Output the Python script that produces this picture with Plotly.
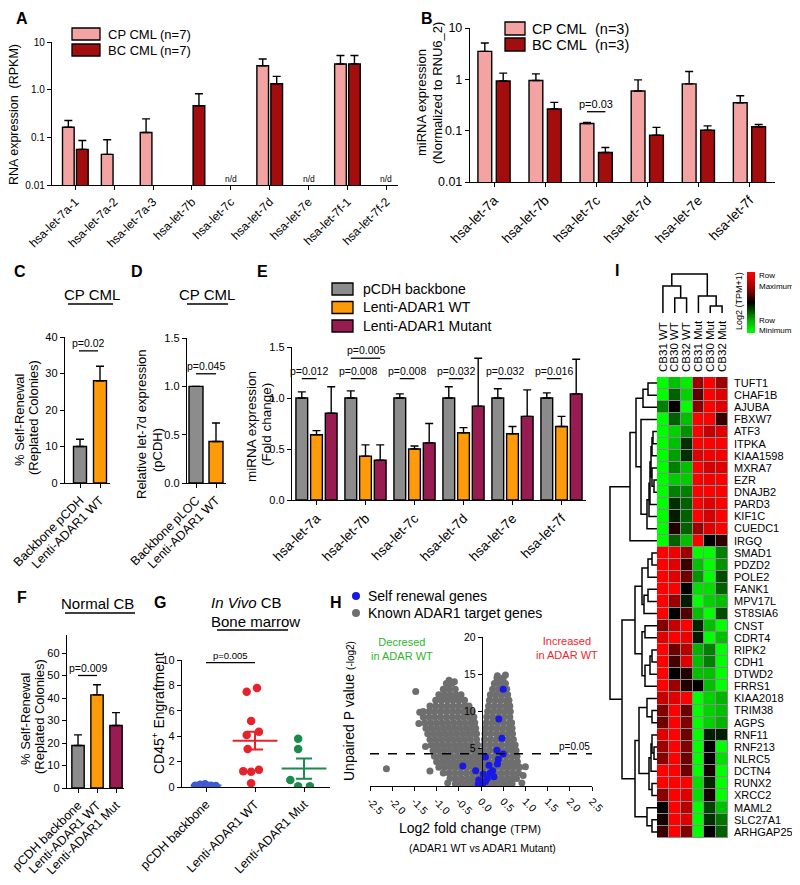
import numpy as np
import plotly.graph_objects as go

FONT = "Liberation Sans, Arial, Helvetica, sans-serif"
W, H = 800, 885
OFF = 8  # the page body margin shifts the figure by 8 px; positions below are page pixels

# ---------------- Panel A ----------------
a_cats = ["hsa-let-7a-1", "hsa-let-7a-2", "hsa-let-7a-3", "hsa-let-7b", "hsa-let-7c",
          "hsa-let-7d", "hsa-let-7e", "hsa-let-7f-1", "hsa-let-7f-2"]
a_cp = [0.163, 0.044, 0.126, None, None, 3.18, None, 3.45, None]
a_cp_top = [0.225, 0.089, 0.244, None, None, 4.4, None, 5.2, None]
a_bc = [0.056, None, None, 0.46, None, 1.33, None, 3.45, None]
a_bc_top = [0.086, None, None, 0.82, None, 1.9, None, 5.2, None]
a_nd = ["hsa-let-7c", "hsa-let-7e", "hsa-let-7f-2"]
a_series = ["CP CML", "BC CML"]
a_n = ["(n=7)", "(n=7)"]

# ---------------- Panel B ----------------
b_cats = ["hsa-let-7a", "hsa-let-7b", "hsa-let-7c", "hsa-let-7d", "hsa-let-7e", "hsa-let-7f"]
b_cp = [3.5, 0.95, 0.138, 0.594, 0.815, 0.35]
b_cp_top = [5.1, 1.28, 0.145, 0.975, 1.42, 0.48]
b_bc = [0.93, 0.264, 0.0375, 0.082, 0.102, 0.119]
b_bc_top = [1.32, 0.356, 0.047, 0.116, 0.124, 0.132]
b_n = ["(n=3)", "(n=3)"]
b_sig = ("hsa-let-7c", 0.234, "p=0.03")

# ---------------- Panel C ----------------
c_cats = ["Backbone pCDH", "Lenti-ADAR1 WT"]
c_vals = [10.0, 28.0]
c_top = [12.0, 32.0]
c_sig = (36.2, "p=0.02")

# ---------------- Panel D ----------------
d_cats = ["Backbone pLOC", "Lenti-ADAR1 WT"]
d_vals = [1.0, 0.43]
d_top = [None, 0.62]
d_sig = (1.13, "p=0.045")

# ---------------- Panel E ----------------
e_cats = ["hsa-let-7a", "hsa-let-7b", "hsa-let-7c", "hsa-let-7d", "hsa-let-7e", "hsa-let-7f"]
e_series = ["pCDH backbone", "Lenti-ADAR1 WT", "Lenti-ADAR1 Mutant"]
e_gray = [1.0, 1.0, 1.0, 1.0, 1.0, 1.0]
e_gray_top = [1.06, 1.07, 1.04, 1.11, 1.09, 1.05]
e_wt = [0.64, 0.43, 0.50, 0.66, 0.65, 0.72]
e_wt_top = [0.68, 0.54, 0.53, 0.71, 0.72, 0.82]
e_mut = [0.85, 0.39, 0.56, 0.92, 0.82, 1.04]
e_mut_top = [1.11, 0.54, 0.75, 1.39, 1.08, 1.38]
e_p_gray_wt = ["p=0.012", "p=0.008", "p=0.008", "p=0.032", "p=0.032", "p=0.016"]
e_p_gray_wt_y = 1.19
e_p_gray_mut = ("hsa-let-7b", 1.39, "p=0.005")

# ---------------- Panel F ----------------
f_cats = ["pCDH backbone", "Lenti-ADAR1 WT", "Lenti-ADAR1 Mut"]
f_vals = [18.9, 41.4, 27.8]
f_top = [23.6, 45.9, 33.5]
f_sig = (50.0, "p=0.009")

# ---------------- Panel G ----------------
g_cats = ["pCDH backbone", "Lenti-ADAR1 WT", "Lenti-ADAR1 Mut"]
g_blue = [0.10, 0.18, 0.22, 0.10, 0.07]
g_blue_jit = [-0.22, -0.12, -0.02, 0.1, 0.2]
g_red = [7.5, 7.8, 5.2, 4.35, 4.1, 3.0, 1.25, 1.2, 1.35, 0.3]
g_red_jit = [-0.17, 0.04, -0.08, 0.08, -0.17, -0.15, -0.24, -0.08, 0.08, -0.08]
g_green = [3.8, 3.0, 0.55, 0.05, 0.05]
g_green_jit = [-0.12, -0.12, -0.28, -0.12, 0.12]
g_mean = [0.12, 3.65, 1.45]
g_sem = [0.03, 0.7, 0.8]
g_sig = (9.8, "p=0.005")

# ---------------- Panel H ----------------
h_gray_rows = [
    (0.3, [-0.58, -0.46, -0.34, -0.22, -0.1, 0.02, 0.14, 0.26, 0.38, 0.5, 0.62, 0.7]),
    (1.0, [-0.7, -0.57, -0.44, -0.31, -0.18, -0.05, 0.08, 0.21, 0.34, 0.47, 0.6, 0.72, 0.8]),
    (1.75, [-0.85, -0.72, -0.59, -0.46, -0.33, -0.2, -0.07, 0.06, 0.19, 0.32, 0.45, 0.58, 0.71, 0.84]),
    (2.5, [-0.95, -0.82, -0.69, -0.56, -0.43, -0.3, -0.17, -0.04, 0.09, 0.22, 0.35, 0.48, 0.61, 0.74, 0.87]),
    (3.25, [-1.0, -0.87, -0.74, -0.61, -0.48, -0.35, -0.22, -0.09, 0.04, 0.17, 0.3, 0.43, 0.56, 0.69, 0.82]),
    (4.0, [-1.05, -0.92, -0.79, -0.66, -0.53, -0.4, -0.27, -0.14, -0.04, 0.05, 0.18, 0.31, 0.44, 0.57, 0.7, 0.81]),
    (4.75, [-1.08, -0.95, -0.82, -0.69, -0.56, -0.43, -0.3, -0.17, -0.06, 0.06, 0.19, 0.32, 0.45, 0.58, 0.7, 0.79]),
    (5.5, [-1.12, -0.99, -0.86, -0.73, -0.6, -0.47, -0.34, -0.21, -0.08, 0.07, 0.2, 0.33, 0.46, 0.59, 0.7, 0.77]),
    (6.25, [-1.15, -1.02, -0.89, -0.76, -0.63, -0.5, -0.37, -0.24, -0.1, 0.08, 0.21, 0.34, 0.47, 0.6, 0.73]),
    (7.0, [-1.2, -1.07, -0.94, -0.81, -0.68, -0.55, -0.42, -0.29, -0.16, -0.1, 0.09, 0.22, 0.35, 0.48, 0.61, 0.71]),
    (7.75, [-1.24, -1.11, -0.98, -0.85, -0.72, -0.59, -0.46, -0.33, -0.2, -0.12, 0.1, 0.23, 0.36, 0.49, 0.62, 0.7]),
    (8.5, [-1.27, -1.14, -1.01, -0.88, -0.75, -0.62, -0.49, -0.36, -0.23, -0.14, 0.12, 0.25, 0.38, 0.51, 0.64, 0.69]),
    (9.25, [-1.3, -1.17, -1.04, -0.91, -0.78, -0.65, -0.52, -0.39, -0.26, -0.16, 0.13, 0.26, 0.39, 0.52, 0.65]),
    (10.0, [-1.3, -1.17, -1.04, -0.91, -0.78, -0.65, -0.52, -0.39, -0.26, -0.2, 0.15, 0.28, 0.41, 0.54, 0.66]),
    (10.75, [-1.15, -1.02, -0.89, -0.76, -0.63, -0.5, -0.37, -0.27, 0.17, 0.3, 0.43, 0.56, 0.65]),
    (11.5, [-1.02, -0.89, -0.76, -0.63, -0.5, -0.37, 0.19, 0.32, 0.45, 0.58, 0.63]),
    (12.25, [-0.95, -0.82, -0.69, -0.56, -0.45, 0.21, 0.34, 0.47, 0.6]),
    (13.0, [-0.85, -0.72, -0.58, 0.26, 0.39, 0.52, 0.58]),
    (13.75, [-0.78, -0.66, 0.3, 0.43, 0.55]),
    (14.5, [0.36, 0.5]),
]
h_gray_out_x = [-2.13, -1.47, -1.38, -1.4, -1.25, -1.15, 0.55, 0.37, -0.72, -0.6, 0.95, 0.92, -0.75, 1.0]
h_gray_out_y = [2.3, 12.7, 9.9, 8.4, 5.3, 2.0, 14.9, 14.8, 14.2, 14.0, 1.4, 0.4, 0.4, 2.6]
h_blue_x = [0.5, 0.4, 0.47, 0.36, 0.5, 0.1, 0.39, -0.41, 0.37, 0.18, -0.12, 0.26, 0.05, 0.2,
            -0.05, -0.01, 0.1, -0.06, 0.03, 0.14, 0.29]
h_blue_y = [13.0, 9.0, 6.4, 4.8, 4.3, 3.9, 3.6, 2.7, 2.95, 2.8, 2.05, 2.05, 1.6, 1.7,
            0.8, 0.45, 0.6, 0.27, 0.13, 1.0, 1.25]
h_pcut = 4.32

# ---------------- Panel I ----------------
i_cols = ["CB31 WT", "CB30 WT", "CB32 WT", "CB31 Mut", "CB30 Mut", "CB32 Mut"]
i_genes = ["TUFT1", "CHAF1B", "AJUBA", "FBXW7", "ATF3", "ITPKA", "KIAA1598", "MXRA7", "EZR",
           "DNAJB2", "PARD3", "KIF1C", "CUEDC1", "IRGQ", "SMAD1", "PDZD2", "POLE2", "FANK1",
           "MPV17L", "ST8SIA6", "CNST", "CDRT4", "RIPK2", "CDH1", "DTWD2", "FRRS1", "KIAA2018",
           "TRIM38", "AGPS", "RNF11", "RNF213", "NLRC5", "DCTN4", "RUNX2", "XRCC2", "MAML2",
           "SLC27A1", "ARHGAP25"]
i_z = [
    [-3, -2, -2.7, 1.5, 3, 1.5],
    [-3, -1, -2.3, 0.8, 3, 2.5],
    [-1.3, 0, -3, 1.3, 3, 2.5],
    [-3, -1, -2, 3, 3, 0.5],
    [-3, -2.3, -1.5, 3, 2, 2.5],
    [-3, -2, -0.5, 3, 3, 3],
    [-3, -1.6, -0.5, 2.5, 2.8, 2.8],
    [-3, -1.3, -2, 3, 2.3, 2.5],
    [-3, -2.2, -2.2, 3, 2.8, 3],
    [-3, -1.3, -1.3, 3, 3, 3],
    [-3, -0.5, -1, 3, 2.5, 3],
    [-3, -0.3, -1, 3, 2.3, 3],
    [-3, 0.3, -1, 1.5, 2.5, 3],
    [-3, -1, -2, 3, 0, 0.4],
    [3, 2.7, 1.5, -3, -3, -1.3],
    [3, 2.5, 0.5, -2, -3, -1.5],
    [3, 2.5, 1, -1.5, -3, -0.8],
    [3, 3, 0, -2.5, -2.5, -1],
    [3, 1.5, -0.3, -3, -2.3, -2],
    [3, 0, 0.7, -2, -3, -0.8],
    [1.2, 2, 3, -0.4, -2, -3],
    [2.5, 3, 2.7, -0.3, -3, -2],
    [3, 1, 1.8, -1.8, -1.3, -3],
    [3, 0.6, 2.5, -2, -1.3, -3],
    [3, 0, 0.3, -2, -2, -3],
    [3, 1.5, 0.3, 0, -2, -3],
    [2, 2.5, 3, -3, -2.3, -1.8],
    [1.2, 3, 1, -3, -2.3, -2],
    [1, 3, 1.2, -3, -2.3, -1.8],
    [2.5, 3, 1, -3, -0.3, -0.3],
    [1.5, 3, 1.2, -3, 0, -3],
    [1.3, 3, 1, -3, 0, -2.5],
    [3, 3, 1, -3, 0.2, -3],
    [3, 3, 3, -2.5, -0.4, -3],
    [1.3, 3, 2.5, -2.5, 0.2, -3],
    [0, 3, 1.8, -3, -0.7, -2],
    [0.2, 3, 2.5, -3, -0.5, -1.2],
    [0.5, 3, 1.2, -3, 0, -1],
]
# row dendrogram merges: (node, child a, child b, height)
i_row_merges = [
    ("u1", "TUFT1", "CHAF1B", 9), ("u2", "u1", "AJUBA", 14),
    ("u3", "ATF3", "ITPKA", 4), ("u4", "u3", "KIAA1598", 5),
    ("u5", "EZR", "DNAJB2", 3), ("u6", "MXRA7", "u5", 5), ("u7", "u4", "u6", 6),
    ("u8", "u7", "PARD3", 7), ("u9", "u8", "KIF1C", 8), ("u10", "u9", "CUEDC1", 10),
    ("u11", "FBXW7", "u10", 16), ("u12", "u2", "u11", 21), ("U", "u12", "IRGQ", 27),
    ("a1", "SMAD1", "PDZD2", 5), ("a2", "a1", "POLE2", 9), ("a3", "FANK1", "MPV17L", 9),
    ("a4", "a3", "ST8SIA6", 13), ("a5", "a2", "a4", 15), ("a6", "CNST", "CDRT4", 12),
    ("a7", "RIPK2", "CDH1", 5), ("a8", "a7", "DTWD2", 7), ("a9", "a8", "FRRS1", 12),
    ("a10", "a6", "a9", 15), ("A", "a5", "a10", 22),
    ("b1", "TRIM38", "AGPS", 5), ("b2", "KIAA2018", "b1", 10), ("b3", "RNF213", "NLRC5", 3),
    ("b4", "RNF11", "b3", 5), ("b5", "b4", "DCTN4", 6), ("b6", "RUNX2", "XRCC2", 5),
    ("b7", "b5", "b6", 8), ("b8", "b2", "b7", 18), ("b9", "SLC27A1", "ARHGAP25", 5),
    ("b10", "MAML2", "b9", 10), ("B", "b8", "b10", 22), ("L", "A", "B", 35),
    ("root", "U", "L", 47),
]
i_col_merges = [
    ("w1", "CB30 WT", "CB32 WT", 15), ("W", "CB31 WT", "w1", 27),
    ("m1", "CB30 Mut", "CB32 Mut", 7), ("M", "CB31 Mut", "m1", 17),
    ("root", "W", "M", 39),
]

# ---------------- colours ----------------
PINK, DRED = "#F4A3A3", "#A30D0D"
GRAY, ORANGE, PURPLE = "#8C8C8C", "#FF9A0A", "#981B52"

fig = go.Figure()
shapes, annos = [], []


def X(px):
    return (px - OFF) / W


def Y(py):
    return 1 - (py - OFF) / H


def xd(a, b):
    return [X(a), X(b)]


def yd(top, bottom):
    return [Y(bottom), Y(top)]


def ptext(x, y, text, size=12, xanchor="center", yanchor="middle", angle=0, color="black"):
    annos.append(dict(x=X(x), y=Y(y), xref="paper", yref="paper", text=text,
                      showarrow=False, xanchor=xanchor, yanchor=yanchor, textangle=angle,
                      font=dict(size=size, color=color, family=FONT)))


def pline(x0, x1, y, width=1.4):
    shapes.append(dict(type="line", xref="paper", yref="paper", x0=X(x0), x1=X(x1),
                       y0=Y(y), y1=Y(y), line=dict(color="black", width=width)))


def prect(x0, y0, x1, y1, color):
    shapes.append(dict(type="rect", xref="paper", yref="paper", x0=X(x0), x1=X(x1),
                       y0=Y(y1), y1=Y(y0), fillcolor=color,
                       line=dict(color="black", width=1.3)))


def bars(vals, tops, color, width, center, xa, ya):
    xs = list(range(len(vals)))
    err = [(t - v) if (v is not None and t is not None) else 0 for v, t in zip(vals, tops)]
    fig.add_trace(go.Bar(
        x=xs, y=vals, width=width, offset=center - width / 2,
        marker=dict(color=color, line=dict(color="black", width=1.4)),
        error_y=dict(type="data", symmetric=False, array=err, arrayminus=[0] * len(err),
                     color="black", thickness=1.4, width=4),
        xaxis=xa, yaxis=ya, showlegend=False, hoverinfo="skip"))


def sig(x0, x1, y, text, xa, ya, logy=False, size=10.5):
    fig.add_trace(go.Scatter(x=[x0, x1], y=[y, y], mode="lines",
                             line=dict(color="black", width=1.3), xaxis=xa, yaxis=ya,
                             showlegend=False, hoverinfo="skip"))
    annos.append(dict(x=(x0 + x1) / 2, y=np.log10(y) if logy else y, xref=xa, yref=ya,
                      text=text, showarrow=False, yanchor="bottom", yshift=0,
                      font=dict(size=size, family=FONT, color="black")))


# ---- A
bars(a_cp, a_cp_top, PINK, 0.3, -0.18, "x", "y")
bars(a_bc, a_bc_top, DRED, 0.3, 0.18, "x", "y")
for c in a_nd:
    annos.append(dict(x=a_cats.index(c), y=np.log10(0.0135), xref="x", yref="y", text="n/d",
                      showarrow=False, font=dict(size=8.5, family=FONT)))
# ---- B
bars(b_cp, b_cp_top, PINK, 0.27, -0.18, "x2", "y2")
bars(b_bc, b_bc_top, DRED, 0.27, 0.18, "x2", "y2")
bi = b_cats.index(b_sig[0])
sig(bi - 0.18, bi + 0.18, b_sig[1], b_sig[2], "x2", "y2", logy=True, size=11)
# ---- C
fig.add_trace(go.Bar(x=[0, 1], y=c_vals, width=0.65,
                     marker=dict(color=[GRAY, ORANGE], line=dict(color="black", width=1.4)),
                     error_y=dict(type="data", symmetric=False,
                                  array=[t - v for v, t in zip(c_vals, c_top)], arrayminus=[0, 0],
                                  color="black", thickness=1.4, width=4),
                     xaxis="x3", yaxis="y3", showlegend=False, hoverinfo="skip"))
sig(-0.05, 0.9, c_sig[0], c_sig[1], "x3", "y3")
# ---- D
fig.add_trace(go.Bar(x=[0, 1], y=d_vals, width=0.7,
                     marker=dict(color=[GRAY, ORANGE], line=dict(color="black", width=1.4)),
                     error_y=dict(type="data", symmetric=False,
                                  array=[0 if t is None else t - v for v, t in zip(d_vals, d_top)],
                                  arrayminus=[0, 0], color="black", thickness=1.4, width=4),
                     xaxis="x4", yaxis="y4", showlegend=False, hoverinfo="skip"))
sig(0, 1, d_sig[0], d_sig[1], "x4", "y4")
# ---- E
bars(e_gray, e_gray_top, GRAY, 0.24, -0.3, "x5", "y5")
bars(e_wt, e_wt_top, ORANGE, 0.24, 0.0, "x5", "y5")
bars(e_mut, e_mut_top, PURPLE, 0.24, 0.3, "x5", "y5")
for i, p in enumerate(e_p_gray_wt):
    sig(i - 0.3, i, e_p_gray_wt_y, p, "x5", "y5")
ei = e_cats.index(e_p_gray_mut[0])
sig(ei - 0.3, ei + 0.3, e_p_gray_mut[1], e_p_gray_mut[2], "x5", "y5")
# ---- F
fig.add_trace(go.Bar(x=[0, 1, 2], y=f_vals, width=0.65,
                     marker=dict(color=[GRAY, ORANGE, PURPLE], line=dict(color="black", width=1.4)),
                     error_y=dict(type="data", symmetric=False,
                                  array=[t - v for v, t in zip(f_vals, f_top)], arrayminus=[0, 0, 0],
                                  color="black", thickness=1.4, width=4),
                     xaxis="x6", yaxis="y6", showlegend=False, hoverinfo="skip"))
sig(0, 1, f_sig[0], f_sig[1], "x6", "y6")
# ---- G
g_cols = ["#3D5BD0", "#E8222B", "#1B8B4C"]
for gi, (vals, jit) in enumerate([(g_blue, g_blue_jit), (g_red, g_red_jit), (g_green, g_green_jit)]):
    fig.add_trace(go.Scatter(x=[gi + j for j in jit], y=vals, mode="markers",
                             marker=dict(color=g_cols[gi], size=8.5),
                             xaxis="x7", yaxis="y7", showlegend=False, hoverinfo="skip"))
    fig.add_trace(go.Scatter(x=[gi], y=[g_mean[gi]], mode="markers",
                             marker=dict(symbol="line-ew", size=22 if gi == 0 else 32,
                                         line=dict(color=g_cols[gi], width=2)),
                             error_y=dict(type="data", array=[g_sem[gi]], color=g_cols[gi],
                                          thickness=2, width=8),
                             xaxis="x7", yaxis="y7", showlegend=False, hoverinfo="skip"))
sig(0, 1, g_sig[0], g_sig[1], "x7", "y7", size=9.5)
# ---- H
hx = [x for y, xs in h_gray_rows for x in xs] + h_gray_out_x
hy = [y for y, xs in h_gray_rows for x in xs] + h_gray_out_y
fig.add_trace(go.Scatter(x=hx, y=hy, mode="markers", marker=dict(color="#6E6E6E", size=7),
                         xaxis="x8", yaxis="y8", showlegend=False, hoverinfo="skip"))
fig.add_trace(go.Scatter(x=h_blue_x, y=h_blue_y, mode="markers", marker=dict(color="#1818E8", size=7),
                         xaxis="x8", yaxis="y8", showlegend=False, hoverinfo="skip"))
fig.add_trace(go.Scatter(x=[-2.5, 2.5], y=[h_pcut, h_pcut], mode="lines",
                         line=dict(color="black", width=1.5, dash="dash"),
                         xaxis="x8", yaxis="y8", showlegend=False, hoverinfo="skip"))
annos.append(dict(x=2.1, y=h_pcut, xref="x8", yref="y8", text="p=0.05", showarrow=False,
                  yanchor="bottom", font=dict(size=10, family=FONT)))
# ---- I heatmap
fig.add_trace(go.Heatmap(
    z=i_z, x=list(range(len(i_cols))), y=list(range(len(i_genes))), zmin=-3, zmax=3,
    colorscale=[[0, "#00FF00"], [0.2, "#00B400"], [0.36, "#005000"], [0.5, "#000000"],
                [0.64, "#600000"], [0.8, "#B80000"], [1, "#FF0000"]],
    xgap=1, ygap=1, xaxis="x9", yaxis="y9", hoverinfo="skip",
    colorbar=dict(x=X(747), xanchor="left", y=Y(272), yanchor="top", len=61,
                  lenmode="pixels", thickness=8, thicknessmode="pixels", xpad=0, ypad=0,
                  showticklabels=False, ticks="", outlinewidth=0)))
shapes.append(dict(type="rect", xref="x9", yref="y9", x0=-0.5, x1=5.5, y0=-0.5, y1=37.5,
                   fillcolor="#8A8A8A", line=dict(color="#8A8A8A", width=1), layer="below"))


def dendro(leaves, merges):
    pos = {n: float(i) for i, n in enumerate(leaves)}
    hgt = {n: 0.0 for n in leaves}
    P, Hh = [], []
    for nid, a, b, h in merges:
        P += [pos[a], pos[a], pos[b], pos[b], None]
        Hh += [hgt[a], h, h, hgt[b], None]
        pos[nid] = (pos[a] + pos[b]) / 2
        hgt[nid] = h
    return P, Hh


rp, rh = dendro(i_genes, i_row_merges)
fig.add_trace(go.Scatter(x=rh, y=rp, mode="lines", line=dict(color="black", width=1.5),
                         xaxis="x10", yaxis="y10", showlegend=False, hoverinfo="skip"))
cp_, ch = dendro(i_cols, i_col_merges)
fig.add_trace(go.Scatter(x=cp_, y=ch, mode="lines", line=dict(color="black", width=1.5),
                         xaxis="x11", yaxis="y11", showlegend=False, hoverinfo="skip"))


# ---------------- axes ----------------
def ax(domain, **kw):
    d = dict(domain=domain, showline=True, linecolor="black", linewidth=1.4, ticks="outside",
             ticklen=4, tickwidth=1.4, tickcolor="black", showgrid=False, zeroline=False,
             tickfont=dict(size=11), automargin=False)
    d.update(kw)
    return d


lay = dict(width=W, height=H, margin=dict(l=0, r=0, t=0, b=0, pad=0, autoexpand=False),
           paper_bgcolor="white", plot_bgcolor="white", barmode="overlay", showlegend=False,
           font=dict(family=FONT, color="black", size=11))
lay["xaxis"] = ax(xd(52, 398), range=[-0.6, 8.3], tickvals=list(range(9)), ticktext=a_cats,
                  tickangle=-45, tickfont=dict(size=12), anchor="y")
lay["yaxis"] = ax(yd(42, 185), type="log", range=[-2, 1], tickvals=[0.01, 0.1, 1, 10],
                  ticktext=["0.01", "0.1", "1.0", "10"], tickfont=dict(size=10), anchor="x")
lay["xaxis2"] = ax(xd(470, 775), range=[-0.47, 5.5], tickvals=list(range(6)), ticktext=b_cats,
                   tickangle=-45, tickfont=dict(size=13.5), anchor="y2")
lay["yaxis2"] = ax(yd(28, 182), type="log", range=[-2, 1], tickvals=[0.01, 0.1, 1, 10],
                   ticktext=["0.01", "0.1", "1", "10"], tickfont=dict(size=12.5), anchor="x2")
lay["xaxis3"] = ax(xd(65, 110), range=[-0.75, 1.5], tickvals=[0, 1], ticktext=c_cats,
                   tickangle=-45, tickfont=dict(size=12.5), anchor="y3")
lay["yaxis3"] = ax(yd(337, 483), range=[0, 40], tickvals=[0, 10, 20, 30, 40], anchor="x3")
lay["xaxis4"] = ax(xd(187, 226), range=[-0.45, 1.5], tickvals=[0, 1], ticktext=d_cats,
                   tickangle=-45, tickfont=dict(size=12.5), anchor="y4")
lay["yaxis4"] = ax(yd(338, 483), range=[0, 1.5], tickvals=[0, 0.5, 1.0, 1.5],
                   ticktext=["0.0", "0.5", "1.0", "1.5"], anchor="x4")
lay["xaxis5"] = ax(xd(292, 586), range=[-0.5, 5.5], tickvals=list(range(6)), ticktext=e_cats,
                   tickangle=-45, tickfont=dict(size=13.5), anchor="y5")
lay["yaxis5"] = ax(yd(347, 500), range=[0, 1.5], tickvals=[0, 0.5, 1.0, 1.5],
                   ticktext=["0.0", "0.5", "1.0", "1.5"], anchor="x5")
lay["xaxis6"] = ax(xd(67, 124), range=[-0.58, 2.42], tickvals=[0, 1, 2], ticktext=f_cats,
                   tickangle=-45, tickfont=dict(size=12.5), anchor="y6")
lay["yaxis6"] = ax(yd(635, 788), range=[0, 68], tickvals=[0, 10, 20, 30, 40, 50, 60], anchor="x6")
lay["xaxis7"] = ax(xd(182, 330), range=[-0.49, 2.53], tickvals=[0, 1, 2], ticktext=g_cats,
                   tickangle=-45, tickfont=dict(size=12.5), anchor="y7")
lay["yaxis7"] = ax(yd(660, 787), range=[0, 10], tickvals=[0, 2, 4, 6, 8, 10], anchor="x7")
lay["xaxis8"] = ax(xd(370, 592), range=[-2.5, 2.5], tickvals=[-2.5, -2, -1.5, -1, -0.5, 0, 0.5, 1, 1.5, 2, 2.5],
                   ticktext=["-2.5", "-2.0", "-1.5", "-1.0", "-0.5", "0.0", "0.5", "1.0", "1.5", "2.0", "2.5"],
                   tickangle=45, tickfont=dict(size=10.5), anchor="y8")
lay["yaxis8"] = ax(yd(637, 786), range=[0, 20], tickvals=[5, 10, 15, 20], anchor="free",
                   position=X(482), tickfont=dict(size=10.5))
lay["xaxis9"] = dict(domain=xd(657, 728), range=[-0.5, 5.5], side="top", tickvals=list(range(6)),
                     ticktext=i_cols, tickangle=-90, ticks="", showline=False, showgrid=False,
                     zeroline=False, tickfont=dict(size=11.5), ticklabelstandoff=4, anchor="y9",
                     automargin=False)
lay["yaxis9"] = dict(domain=yd(377, 838), range=[37.5, -0.5], side="right",
                     tickvals=list(range(len(i_genes))), ticktext=i_genes, ticks="", showline=False,
                     showgrid=False, zeroline=False, tickfont=dict(size=11), ticklabelstandoff=5,
                     anchor="x9", automargin=False)
lay["xaxis10"] = dict(domain=xd(607, 657), range=[50, 0], visible=False, anchor="y10")
lay["yaxis10"] = dict(domain=yd(377, 838), range=[37.5, -0.5], visible=False, anchor="x10")
lay["xaxis11"] = dict(domain=xd(657, 728), range=[-0.5, 5.5], visible=False, anchor="y11")
lay["yaxis11"] = dict(domain=yd(271, 313), range=[0, 42], visible=False, anchor="x11")

# ---------------- texts / decorations ----------------
for lt, x, y in [("A", 22, 18), ("B", 427, 19), ("C", 20, 272), ("D", 137, 272), ("E", 262, 272),
                 ("F", 22, 597), ("G", 160, 602), ("H", 336, 602), ("I", 617, 270)]:
    ptext(x, y, "<b>%s</b>" % lt, size=16)

# A legend
prect(72, 28, 100, 40, PINK)
prect(72, 44, 100, 56, DRED)
ptext(106, 34, a_series[0], 13, "left")
ptext(106, 50, a_series[1], 13, "left")
ptext(158, 34, a_n[0], 13, "left")
ptext(158, 50, a_n[1], 13, "left")
ptext(14, 115, "RNA expression  (RPKM)", 12.5, angle=-90)

# B legend
prect(505, 22, 525, 35, PINK)
prect(505, 38, 525, 51, DRED)
ptext(530, 29, a_series[0], 14.5, "left")
ptext(530, 45, a_series[1], 14.5, "left")
ptext(593, 29, b_n[0], 14.5, "left")
ptext(593, 45, b_n[1], 14.5, "left")
ptext(421, 103, "miRNA expression", 13, angle=-90)
ptext(437, 93, "(Normalized to RNU6_2)", 13, angle=-90)

# C
ptext(92, 295, "CP CML", 15)
pline(68, 113, 304)
ptext(19, 420, "% Self-Renewal", 13, angle=-90)
ptext(34, 418, "(Replated Colonies)", 13, angle=-90)
# D
ptext(207, 295, "CP CML", 15)
pline(187, 228, 304)
ptext(141, 424, "Relative let-7d expression", 13, angle=-90)
ptext(157, 450, "(pCDH)", 13, angle=-90)
# E
for k, (col, yy) in enumerate([(GRAY, 289), (ORANGE, 307.5), (PURPLE, 326)]):
    prect(332, yy - 6, 353, yy + 6, col)
    ptext(361, yy, e_series[k], 14, "left")
ptext(251, 427, "miRNA expression", 13.5, angle=-90)
ptext(266, 425, "(Fold change)", 13.5, angle=-90)
# F
ptext(97, 603, "Normal CB", 15)
pline(65, 135, 613)
ptext(25, 719, "% Self-Renewal", 13, angle=-90)
ptext(39, 717, "(Replated Colonies)", 13, angle=-90)
# G
ptext(246, 602, "<i>In Vivo</i> CB", 15)
ptext(255, 621, "Bone marrow", 15)
pline(217, 288, 630)
ptext(158, 713, "CD45<sup>+</sup> Engraftment", 14, angle=-90)
# H
shapes.append(dict(type="circle", xref="paper", yref="paper", x0=X(352), x1=X(360),
                   y0=Y(600), y1=Y(592), fillcolor="#1818E8", line=dict(width=0)))
shapes.append(dict(type="circle", xref="paper", yref="paper", x0=X(352), x1=X(360),
                   y0=Y(617), y1=Y(609), fillcolor="#6E6E6E", line=dict(width=0)))
ptext(366, 596, "Self renewal genes", 14, "left")
ptext(366, 613, "Known ADAR1 target genes", 14, "left")
ptext(402, 649, "Decresed<br>in ADAR WT", 11, color="#2DB52D")
ptext(567, 648, "Increased<br>in ADAR WT", 11, color="#F0262B")
ptext(349, 711, "Unpaired P value <span style='font-size:10px'>(-log2)</span>", 14, angle=-90)
ptext(470, 828, "Log2 fold change <span style='font-size:11px'>(TPM)</span>", 14)
ptext(482, 848, "(ADAR1 WT vs ADAR1 Mutant)", 10.5)
# I colour key
ptext(757, 275, "Row", 8, "left")
ptext(757, 286, "Maximum", 8, "left")
ptext(757, 320, "Row", 8, "left")
ptext(757, 330, "Minimum", 8, "left")
ptext(739, 301, "Log2 (TPM+1)", 9, angle=-90)

lay["shapes"] = shapes
lay["annotations"] = annos
fig.update_layout(**lay)
fig.write_html("out.html")
